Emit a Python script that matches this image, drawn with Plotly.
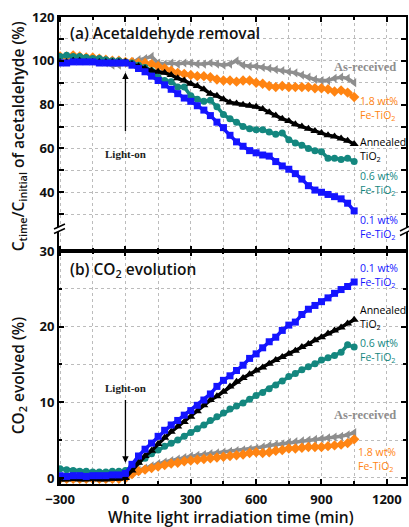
import plotly.graph_objects as go

# ---------------- data ----------------
time_min = [-300, -270, -240, -210, -180, -150, -120, -90, -60, -30,
            0, 30, 60, 90, 120, 150, 180, 210, 240, 270,
            300, 330, 360, 390, 420, 450, 480, 510, 540, 570,
            600, 630, 660, 690, 720, 750, 780, 810, 840, 870,
            900, 930, 960, 990, 1020, 1050]

# (a) Acetaldehyde removal, Ctime/Cinitial (%)
a_as_received = [101, 101.5, 101.5, 101, 100.5, 100, 99.5, 99, 98, 98,
                 99, 99.5, 100.5, 101, 102, 99, 98.5, 99, 98.5, 99,
                 99, 98.5, 98.5, 99, 98.5, 98, 98.5, 100, 98, 97.5,
                 97.5, 97, 96.5, 96, 95.5, 95, 94.5, 93.5, 92.5, 91.5,
                 91, 91, 92, 92.5, 92, 90]
a_fe18 = [102, 102, 102.5, 102, 101.5, 101.5, 101, 100.5, 100, 100,
          99.5, 99.5, 99, 99, 98.5, 97.5, 96.5, 95.5, 94.5, 94,
          93.5, 93, 93, 92.5, 91.5, 91, 91, 90.5, 91, 91,
          90, 89.5, 88.5, 88, 88.5, 88, 88, 88, 88, 87.5,
          87.5, 87, 86, 86.5, 85.5, 83.5]
a_fe06 = [102, 102.5, 102, 102, 101.5, 101, 101, 100.5, 100, 100,
          99.5, 99, 98, 97, 95.5, 92.5, 91, 90.5, 88, 88,
          84, 82.5, 81.5, 82, 79, 75.5, 73.5, 72, 70, 69,
          68.5, 68.5, 67.5, 66.5, 67, 64, 62.5, 61.5, 60, 59,
          58.5, 55.5, 55.5, 55, 55.5, 54]
a_annealed = [99.5, 99.5, 100, 100, 99.5, 99.5, 99.5, 99.5, 99.5, 99.5,
              99.5, 98.5, 97.5, 96.5, 95.5, 95, 94.5, 93.5, 92, 91,
              89.5, 88.5, 87, 85, 84, 82.5, 81, 80.5, 80, 79.5,
              79, 78, 76.5, 75, 73.5, 72.5, 71, 70, 69, 68,
              67, 66, 65.5, 64.5, 63.5, 62]
a_fe01 = [99, 99, 99.5, 99.5, 99.5, 99.5, 99, 99, 99, 99,
          99, 98, 96.5, 95, 93, 91, 89, 87, 85, 83,
          81.5, 79.5, 77.5, 75, 72, 69.5, 66, 63, 61, 59,
          58, 57, 56.5, 54, 52, 50.5, 48.5, 46, 43, 41,
          40, 39, 38, 37, 35, 31.5]

# (b) CO2 evolved (%)
b_as_received = [0.0, 0.0, 0.0, 0.0, 0.0, 0.0, 0.0, 0.0, 0.0, 0.0,
                 0.1, 0.6, 1.0, 1.3, 1.6, 1.9, 2.1, 2.3, 2.5, 2.7,
                 2.9, 3.0, 3.1, 3.2, 3.3, 3.4, 3.5, 3.6, 3.7, 3.8,
                 3.9, 4.1, 4.3, 4.4, 4.5, 4.7, 4.8, 4.9, 5.0, 5.1,
                 5.2, 5.3, 5.4, 5.5, 5.7, 6.0]
b_fe18 = [-0.1, -0.1, -0.1, -0.1, -0.1, -0.1, -0.1, -0.1, -0.1, -0.1,
          0.0, 0.5, 0.9, 1.1, 1.3, 1.5, 1.7, 1.9, 2.0, 2.2,
          2.3, 2.4, 2.5, 2.6, 2.7, 2.8, 2.9, 3.0, 3.1, 3.3,
          3.4, 3.3, 3.4, 3.6, 3.7, 3.9, 3.9, 4.0, 4.1, 4.1,
          4.1, 4.2, 4.3, 4.4, 4.6, 5.1]
b_fe06 = [1.2, 1.1, 1.0, 0.9, 0.9, 0.8, 0.8, 0.8, 0.9, 0.9,
          1.0, 1.5, 2.1, 2.6, 3.2, 3.7, 4.2, 4.6, 5.0, 5.5,
          6.0, 6.5, 7.0, 7.6, 8.1, 8.6, 9.1, 9.5, 9.9, 10.4,
          10.9, 11.3, 11.8, 12.3, 12.8, 13.4, 13.8, 14.3, 14.7, 15.1,
          15.6, 15.9, 16.2, 16.6, 17.6, 17.3]
b_annealed = [-0.2, -0.2, -0.1, -0.2, -0.2, -0.1, -0.2, -0.2, -0.1, -0.1,
              0.0, 1.0, 2.0, 2.9, 3.6, 4.5, 5.3, 6.1, 6.8, 7.4,
              8.1, 8.8, 9.6, 10.3, 10.8, 11.4, 12.1, 12.7, 13.2, 13.7,
              14.2, 14.6, 15.1, 15.6, 16.0, 16.4, 16.8, 17.3, 17.7, 18.2,
              18.6, 19.1, 19.5, 19.9, 20.4, 20.9]
b_fe01 = [0.3, 0.2, 0.3, 0.3, 0.2, 0.3, 0.3, 0.3, 0.4, 0.4,
          0.6, 1.8, 2.9, 3.8, 4.6, 5.5, 6.3, 7.0, 7.6, 8.3,
          8.9, 9.6, 10.3, 11.1, 12.1, 12.9, 13.5, 14.2, 14.9, 15.8,
          16.4, 17.2, 18.0, 18.6, 19.5, 20.2, 20.6, 21.6, 22.3, 22.8,
          23.3, 23.8, 24.4, 24.9, 25.3, 25.9]

x_ticks = [-300, 0, 300, 600, 900, 1200]
a_ticks = [40, 60, 80, 100, 120]
a_minor = [30, 50, 70, 90, 110]

# ---------------- styles ----------------
C_GRAY = "#8e8e8e"
C_ORANGE = "#ff8412"
C_TEAL = "#14877f"
C_BLACK = "#000000"
C_BLUE = "#1414ff"
SANS = "Open Sans"
SERIF = "Liberation Serif"

series = [
    ("As-received", C_GRAY, "triangle-left", 8, a_as_received, b_as_received),
    ("1.8 wt% Fe-TiO2", C_ORANGE, "diamond", 8, a_fe18, b_fe18),
    ("0.6 wt% Fe-TiO2", C_TEAL, "circle", 7, a_fe06, b_fe06),
    ("Annealed TiO2", C_BLACK, "triangle-up", 8, a_annealed, b_annealed),
    ("0.1 wt% Fe-TiO2", C_BLUE, "square", 7, a_fe01, b_fe01),
]

fig = go.Figure()
for name, col, sym, sz, ya, yb in series:
    for yv, xa, yaax in ((ya, "x2", "y2"), (yb, "x", "y")):
        fig.add_trace(go.Scatter(
            x=time_min, y=yv, xaxis=xa, yaxis=yaax, name=name,
            mode="lines+markers", showlegend=False,
            line=dict(color=col, width=3.5),
            marker=dict(symbol=sym, size=sz, color=col, line=dict(width=0)),
        ))

grid = dict(showgrid=True, gridcolor="#bcbcbc", griddash="dot", gridwidth=1)
axis_common = dict(showline=True, linecolor="black", linewidth=2, mirror="ticks",
                   ticks="inside", ticklen=5, tickwidth=1.5, tickcolor="black",
                   zeroline=False, **grid)
tickfont = dict(family=SANS, size=13, color="#111", weight=700)

XR = [-305, 1288]
fig.update_layout(
    width=409, height=527,
    margin=dict(l=59, r=1, t=17, b=43),
    paper_bgcolor="white", plot_bgcolor="white",
    xaxis=dict(domain=[0, 1], anchor="y", range=XR, tickvals=x_ticks,
               tickfont=tickfont, ticklabelstandoff=2,
               minor=dict(dtick=150, tick0=0, ticks="inside", ticklen=3, tickcolor="black", **grid),
               **axis_common),
    yaxis=dict(domain=[0, 0.499], anchor="x", range=[-0.8, 30], dtick=10, tick0=0,
               tickfont=tickfont,
               minor=dict(dtick=5, tick0=0, ticks="inside", ticklen=3, tickcolor="black", **grid),
               **axis_common),
    xaxis2=dict(domain=[0, 1], anchor="y2", range=XR, matches="x", tickvals=x_ticks,
                showticklabels=False,
                minor=dict(dtick=150, tick0=0, ticks="inside", ticklen=3, tickcolor="black", **grid),
                **axis_common),
    yaxis2=dict(domain=[0.499, 1], anchor="x2", range=[13.2, 120], tickvals=a_ticks,
                tickfont=tickfont,
                minor=dict(tickvals=a_minor, ticks="inside", ticklen=5, tickcolor="black", **grid),
                **axis_common),
)

ann = []
# panel titles
ann.append(dict(x=-262, y=112.8, xref="x2", yref="y2", xanchor="left", yanchor="middle",
                text="(a) Acetaldehyde removal", showarrow=False,
                font=dict(family=SANS, size=15.5, color="#111", weight=600)))
ann.append(dict(x=-262, y=27.6, xref="x", yref="y", xanchor="left", yanchor="middle",
                text="(b) CO<sub>2</sub> evolution", showarrow=False,
                font=dict(family=SANS, size=15.5, color="#111", weight=600)))

lab_font = lambda c: dict(family=SANS, size=10.5, color=c, weight=500)
serif_font = lambda c, s: dict(family=SERIF, size=s, color=c, weight="bold")

# (a) labels
ann += [
    dict(x=1101, y=97.3, xref="x2", yref="y2", text="As-received", showarrow=False,
         xanchor="center", yanchor="middle", font=serif_font(C_GRAY, 12.5)),
    dict(x=1068, y=78.3, xref="x2", yref="y2", text="1.8 wt%<br>Fe-TiO<sub>2</sub>", showarrow=False,
         xanchor="left", yanchor="middle", align="left", font=lab_font(C_ORANGE)),
    dict(x=1068, y=59.6, xref="x2", yref="y2", text="Annealed<br>TiO<sub>2</sub>", showarrow=False,
         xanchor="left", yanchor="middle", align="left", font=lab_font(C_BLACK)),
    dict(x=1068, y=44.1, xref="x2", yref="y2", text="0.6 wt%<br>Fe-TiO<sub>2</sub>", showarrow=False,
         xanchor="left", yanchor="middle", align="left", font=lab_font(C_TEAL)),
    dict(x=1068, y=24.0, xref="x2", yref="y2", text="0.1 wt%<br>Fe-TiO<sub>2</sub>", showarrow=False,
         xanchor="left", yanchor="middle", align="left", font=lab_font(C_BLUE)),
]
# (b) labels
ann += [
    dict(x=1068, y=26.7, xref="x", yref="y", text="0.1 wt%<br>Fe-TiO<sub>2</sub>", showarrow=False,
         xanchor="left", yanchor="middle", align="left", font=lab_font(C_BLUE)),
    dict(x=1068, y=21.2, xref="x", yref="y", text="Annealed<br>TiO<sub>2</sub>", showarrow=False,
         xanchor="left", yanchor="middle", align="left", font=lab_font(C_BLACK)),
    dict(x=1068, y=16.8, xref="x", yref="y", text="0.6 wt%<br>Fe-TiO<sub>2</sub>", showarrow=False,
         xanchor="left", yanchor="middle", align="left", font=lab_font(C_TEAL)),
    dict(x=1101, y=8.3, xref="x", yref="y", text="As-received", showarrow=False,
         xanchor="center", yanchor="middle", font=serif_font(C_GRAY, 12.5)),
    dict(x=1060, y=2.4, xref="x", yref="y", text="1.8 wt%<br>Fe-TiO<sub>2</sub>", showarrow=False,
         xanchor="left", yanchor="middle", align="left", font=lab_font(C_ORANGE)),
]
# Light-on arrows
ann += [
    dict(x=0, y=94.7, ax=0, ay=67.3, xref="x2", yref="y2", axref="x2", ayref="y2",
         text="", showarrow=True, arrowhead=2, arrowsize=1, arrowwidth=1.3, arrowcolor="black"),
    dict(x=0, y=57.3, xref="x2", yref="y2", text="Light-on", showarrow=False,
         xanchor="center", yanchor="middle", font=serif_font("#222", 11)),
    dict(x=0, y=2.0, ax=0, ay=10.5, xref="x", yref="y", axref="x", ayref="y",
         text="", showarrow=True, arrowhead=2, arrowsize=1, arrowwidth=1.3, arrowcolor="black"),
    dict(x=0, y=11.9, xref="x", yref="y", text="Light-on", showarrow=False,
         xanchor="center", yanchor="middle", font=serif_font("#222", 11)),
]

# axis titles
def px2paper_x(px):
    return (px - 59) / 349.0

def px2paper_y(py):
    return (484 - py) / 467.0

ann += [
    dict(x=px2paper_x(232), y=px2paper_y(517), xref="paper", yref="paper",
         text="White light irradiation time (min)", showarrow=False,
         xanchor="center", yanchor="middle",
         font=dict(family=SANS, size=15.5, color="#111", weight=600)),
    dict(x=px2paper_x(18), y=px2paper_y(136), xref="paper", yref="paper",
         text="C<sub>time</sub>/C<sub>initial</sub> of acetaldehyde (%)", showarrow=False,
         textangle=-90, xanchor="center", yanchor="middle",
         font=dict(family=SANS, size=15.5, color="#111", weight=600)),
    dict(x=px2paper_x(18), y=px2paper_y(376), xref="paper", yref="paper",
         text="CO<sub>2</sub> evolved (%)", showarrow=False,
         textangle=-90, xanchor="center", yanchor="middle",
         font=dict(family=SANS, size=15.5, color="#111", weight=600)),
]
fig.update_layout(annotations=ann)

# axis-break marks
def brk(x0, x1, yu0, yu1, yl0, yl1):
    X0, X1 = px2paper_x(x0), px2paper_x(x1)
    shapes = [
        dict(type="path", xref="paper", yref="paper", layer="above",
             path=f"M {X0},{px2paper_y(yu0)} L {X1},{px2paper_y(yu1)} L {X1},{px2paper_y(yl1)} L {X0},{px2paper_y(yl0)} Z",
             fillcolor="white", line=dict(width=0)),
        dict(type="line", xref="paper", yref="paper", layer="above",
             x0=X0, y0=px2paper_y(yu0), x1=X1, y1=px2paper_y(yu1), line=dict(color="black", width=1.5)),
        dict(type="line", xref="paper", yref="paper", layer="above",
             x0=X0, y0=px2paper_y(yl0), x1=X1, y1=px2paper_y(yl1), line=dict(color="black", width=1.5)),
    ]
    return shapes

shapes = brk(54, 65, 229, 224, 233.5, 228.5) + brk(402, 412, 231, 226, 235.5, 230.5)
fig.update_layout(shapes=shapes)

fig.write_html("out.html", config={"displayModeBar": False},
               post_script="document.body.style.margin='0';document.body.style.padding='0';"
                           "document.documentElement.style.overflow='hidden';")
